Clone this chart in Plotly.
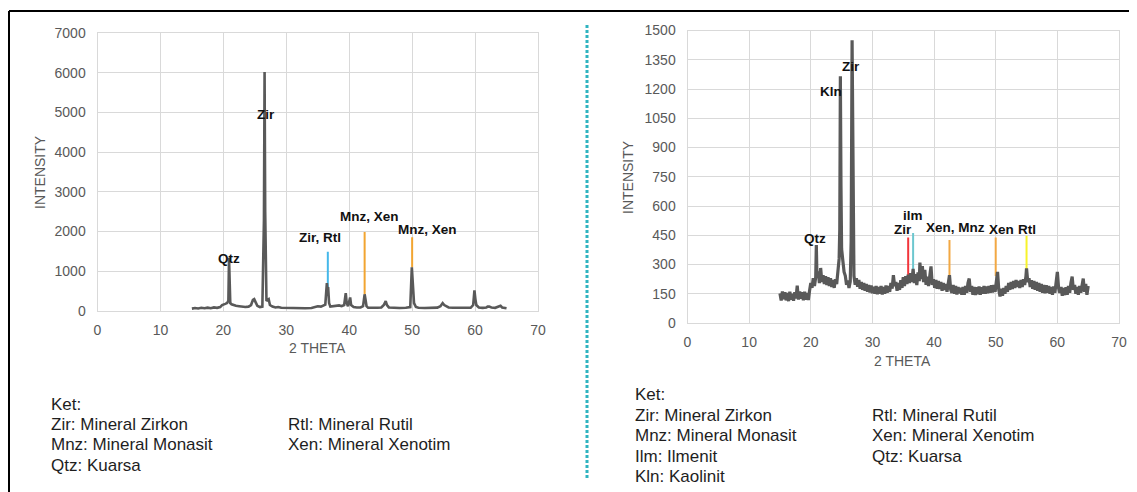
import plotly.graph_objects as go

# ---------------- Left pattern ----------------
theta_left = [15.0, 15.5, 16.0, 16.5, 17.0, 17.5, 18.0, 18.5, 19.0, 19.5, 19.8, 20.0, 20.3, 20.6,
              20.8, 20.9, 21.0, 21.1, 21.3, 21.6, 22.0, 22.5, 23.0, 23.5, 24.0, 24.4, 24.7, 24.9,
              25.1, 25.4, 25.8, 26.2, 26.45, 26.55, 26.65, 26.75, 26.85, 27.0, 27.2, 27.4, 27.8,
              28.3, 28.7, 29.2, 30.0, 31.0, 32.0, 33.0, 34.0, 34.5, 35.0, 35.5, 35.9, 36.2, 36.45,
              36.55, 36.65, 36.8, 37.0, 37.5, 38.0, 38.4, 38.8, 39.2, 39.45, 39.6, 39.8, 40.05,
              40.15, 40.3, 40.4, 40.7, 41.2, 41.8, 42.2, 42.45, 42.6, 42.75, 43.0, 43.8, 44.5,
              45.1, 45.5, 45.8, 46.0, 46.3, 47.0, 48.0, 49.0, 49.7, 49.95, 50.05, 50.15, 50.3,
              50.6, 51.0, 52.0, 53.0, 54.0, 54.5, 54.85, 55.1, 55.4, 55.8, 56.5, 57.5, 58.5, 59.3,
              59.7, 59.9, 60.05, 60.2, 60.6, 61.2, 61.8, 62.0, 62.25, 62.6, 63.2, 63.7, 64.05,
              64.3, 64.7, 65.0]
intensity_left = [60, 75, 65, 80, 70, 85, 70, 90, 80, 100, 150, 170, 180, 200,
                  260, 1340, 780, 200, 170, 150, 130, 120, 110, 100, 110, 150, 280, 300,
                  230, 130, 100, 110, 2300, 6020, 2500, 400, 250, 280, 300, 150, 110,
                  90, 100, 80, 75, 70, 75, 70, 75, 90, 120, 110, 130, 160, 700,
                  520, 600, 200, 110, 120, 130, 140, 120, 150, 450, 200, 120, 330,
                  340, 150, 130, 100, 90, 90, 120, 420, 280, 120, 80, 75, 80,
                  90, 150, 250, 150, 90, 80, 75, 80, 100, 1100, 850, 600, 200,
                  100, 80, 75, 80, 85, 120, 200, 150, 120, 90, 80, 75, 80, 80,
                  150, 520, 300, 150, 90, 80, 90, 110, 110, 90, 80, 100, 130,
                  90, 70, 70]

left_label_text = ["Qtz", "Zir", "Zir, Rtl", "Mnz, Xen", "Mnz, Xen"]
left_label_x = [20.9, 26.8, 35.4, 43.2, 52.4]
left_label_y = [1330, 4960, 1860, 2370, 2040]

left_mark_theta = [36.6, 42.45, 50.0]
left_mark_top = [1490, 1990, 1860]
left_mark_bottom = [520, 420, 1100]
left_mark_color = ["#45b8ea", "#f2a531", "#f2a531"]

# ---------------- Right pattern ----------------
theta_right = [15.0, 15.2, 15.4, 15.6, 15.8, 16.0, 16.2, 16.4, 16.6, 16.8, 17.0, 17.2, 17.4, 17.6,
               17.8, 18.0, 18.2, 18.4, 18.6, 18.8, 19.0, 19.2, 19.4, 19.6, 19.8, 20.0, 20.2, 20.4,
               20.6, 20.8, 20.9, 21.0, 21.2, 21.4, 21.6, 21.8, 22.0, 22.2, 22.4, 22.6, 22.8, 23.0,
               23.2, 23.4, 23.6, 23.8, 24.0, 24.2, 24.4, 24.6, 24.7, 24.8, 24.9, 25.0, 25.2, 25.4,
               25.6, 25.8, 26.0, 26.2, 26.4, 26.55, 26.7, 26.8, 26.9, 27.0, 27.2, 27.4, 27.6, 27.8,
               28.0, 28.2, 28.4, 28.6, 28.8, 29.0, 29.2, 29.4, 29.6, 29.8, 30.0, 30.2, 30.4, 30.6,
               30.8, 31.0, 31.2, 31.4, 31.6, 31.8, 32.0, 32.2, 32.4, 32.6, 32.8, 33.0, 33.2, 33.4,
               33.6, 33.8, 34.0, 34.2, 34.4, 34.6, 34.8, 35.0, 35.2, 35.4, 35.6, 35.8, 36.0, 36.2,
               36.4, 36.6, 36.8, 37.0, 37.2, 37.4, 37.6, 37.7, 37.9, 38.1, 38.3, 38.5, 38.7, 38.9,
               39.1, 39.3, 39.5, 39.7, 39.9, 40.1, 40.3, 40.5, 40.7, 40.9, 41.1, 41.3, 41.5, 41.7,
               41.9, 42.1, 42.3, 42.5, 42.7, 42.9, 43.1, 43.3, 43.5, 43.7, 43.9, 44.1, 44.3, 44.5,
               44.7, 44.9, 45.1, 45.3, 45.5, 45.7, 45.9, 46.1, 46.3, 46.5, 46.7, 46.9, 47.1, 47.3,
               47.5, 47.7, 47.9, 48.1, 48.3, 48.5, 48.7, 48.9, 49.1, 49.3, 49.5, 49.7, 49.9, 50.1,
               50.3, 50.5, 50.7, 50.9, 51.1, 51.3, 51.5, 51.7, 51.9, 52.1, 52.3, 52.5, 52.7, 52.9,
               53.1, 53.3, 53.5, 53.7, 53.9, 54.1, 54.3, 54.5, 54.7, 54.9, 55.0, 55.2, 55.4, 55.6,
               55.8, 56.0, 56.2, 56.4, 56.6, 56.8, 57.0, 57.2, 57.4, 57.6, 57.8, 58.0, 58.2, 58.4,
               58.6, 58.8, 59.0, 59.2, 59.4, 59.6, 59.8, 60.0, 60.2, 60.4, 60.6, 60.8, 61.0, 61.2,
               61.4, 61.6, 61.8, 62.0, 62.2, 62.4, 62.6, 62.8, 63.0, 63.2, 63.4, 63.6, 63.8, 64.0,
               64.2, 64.4, 64.6, 64.8, 65.0]
intensity_right = [152, 115, 162, 122, 158, 116, 154, 112, 160, 120, 150, 114, 158, 126,
                   192, 120, 162, 124, 158, 116, 160, 120, 154, 118, 165, 205, 180, 230,
                   190, 235, 400, 235, 265, 205, 282, 210, 245, 200, 240, 195, 235, 190,
                   230, 185, 220, 180, 225, 200, 265, 330, 480, 1265, 700, 380, 320, 262,
                   242, 196, 218, 180, 212, 420, 1450, 800, 330, 242, 196, 230, 186, 220,
                   176, 210, 170, 205, 166, 200, 160, 195, 156, 192, 153, 186, 150, 190,
                   148, 185, 150, 190, 146, 185, 150, 192, 155, 190, 160, 205, 176, 245,
                   190, 210, 165, 205, 170, 220, 180, 235, 190, 240, 200, 248, 205, 255,
                   210, 278, 205, 250, 195, 260, 215, 310, 225, 292, 210, 272, 196, 238,
                   190, 230, 290, 195, 225, 180, 220, 176, 215, 175, 210, 165, 205, 170,
                   200, 160, 195, 245, 170, 155, 195, 150, 190, 146, 185, 152, 180, 145,
                   185, 145, 190, 155, 205, 228, 160, 190, 145, 185, 143, 183, 147, 187,
                   145, 183, 150, 190, 150, 187, 153, 190, 155, 193, 157, 195, 160, 205,
                   262, 170, 136, 175, 140, 180, 150, 190, 160, 205, 170, 210, 175, 215,
                   180, 220, 185, 215, 180, 220, 185, 225, 195, 238, 280, 210, 230, 185,
                   220, 175, 215, 170, 210, 165, 205, 160, 200, 155, 195, 153, 193, 155,
                   190, 150, 185, 145, 187, 155, 205, 262, 180, 155, 185, 140, 180, 143,
                   183, 145, 190, 155, 205, 238, 170, 195, 150, 185, 145, 190, 155, 200,
                   228, 160, 200, 145, 190]

right_label_text = ["Zir", "Kln", "Qtz", "ilm", "Zir", "Xen, Mnz", "Xen", "Rtl"]
right_label_x = [26.5, 23.3, 20.7, 36.6, 34.9, 43.4, 50.95, 55.1]
right_label_y = [1313, 1185, 431, 551, 481, 489, 478, 481]

right_mark_theta = [35.8, 36.6, 42.5, 50.0, 55.0]
right_mark_top = [438, 461, 426, 438, 448]
right_mark_bottom = [246, 263, 225, 241, 263]
right_mark_color = ["#f2353b", "#6cc7cf", "#f2a843", "#f2a843", "#f7f32a"]

left_notes_col1 = ["Ket:", "Zir: Mineral Zirkon", "Mnz: Mineral Monasit", "Qtz: Kuarsa"]
left_notes_col2 = ["Rtl: Mineral Rutil", "Xen: Mineral Xenotim"]
right_notes_col1 = ["Ket:", "Zir: Mineral Zirkon", "Mnz: Mineral Monasit", "Ilm: Ilmenit", "Kln: Kaolinit"]
right_notes_col2 = ["Rtl: Mineral Rutil", "Xen: Mineral Xenotim", "Qtz: Kuarsa"]

left_yticks = [0, 1000, 2000, 3000, 4000, 5000, 6000, 7000]
right_yticks = [0, 150, 300, 450, 600, 750, 900, 1050, 1200, 1350, 1500]
xticks = [0, 10, 20, 30, 40, 50, 60, 70]

# ---------------- Figure ----------------
# the page body has an 8px margin, so the figure starts 8px in from the window corner
OFF = 8
W, H = 1137 - OFF, 492 - OFF
FONT = "Liberation Sans, Arial, sans-serif"
TICK = "#595959"
TRACE = "#595959"


def px_x(p):
    return (p - OFF) / W


def px_y(p):
    return 1 - (p - OFF) / H


fig = go.Figure()

# marker lines (drawn first so the gray pattern covers their lower ends)
for th, top, bot, col in zip(left_mark_theta, left_mark_top, left_mark_bottom, left_mark_color):
    fig.add_trace(go.Scatter(x=[th, th], y=[bot, top], mode="lines", xaxis="x", yaxis="y",
                             line=dict(color=col, width=2), hoverinfo="skip", showlegend=False))
for th, top, bot, col in zip(right_mark_theta, right_mark_top, right_mark_bottom, right_mark_color):
    fig.add_trace(go.Scatter(x=[th, th], y=[bot, top], mode="lines", xaxis="x2", yaxis="y2",
                             line=dict(color=col, width=2), hoverinfo="skip", showlegend=False))

fig.add_trace(go.Scatter(x=theta_left, y=intensity_left, mode="lines", xaxis="x", yaxis="y",
                         line=dict(color=TRACE, width=2.6), showlegend=False))
fig.add_trace(go.Scatter(x=theta_right, y=intensity_right, mode="lines", xaxis="x2", yaxis="y2",
                         line=dict(color=TRACE, width=3.2), showlegend=False))

axis_common = dict(showgrid=True, gridcolor="#d9d9d9", gridwidth=1, zeroline=False,
                   showline=True, mirror=True, linecolor="#d9d9d9", linewidth=1,
                   ticks="", tickfont=dict(family=FONT, size=14, color=TICK), automargin=False,
                   fixedrange=True)

fig.update_layout(
    width=W, height=H, autosize=False,
    margin=dict(l=0, r=0, t=0, b=0),
    paper_bgcolor="white", plot_bgcolor="white",
    xaxis=dict(domain=[px_x(97.5), px_x(538)], range=[0, 70], tickvals=xticks, anchor="y",
               ticklabelstandoff=6, **axis_common),
    yaxis=dict(domain=[px_y(311), px_y(33)], range=[0, 7000], tickvals=left_yticks, anchor="x",
               ticklabelstandoff=8, **axis_common),
    xaxis2=dict(domain=[px_x(687.5), px_x(1119)], range=[0, 70], tickvals=xticks, anchor="y2",
                ticklabelstandoff=6, **axis_common),
    yaxis2=dict(domain=[px_y(323), px_y(30.5)], range=[0, 1500], tickvals=right_yticks, anchor="x2",
                ticklabelstandoff=8, **axis_common),
)

ann = []
# peak labels
label_font = dict(family=FONT, size=13.5, color="#111111")
for t, x, y in zip(left_label_text, left_label_x, left_label_y):
    ann.append(dict(text="<b>" + t + "</b>", x=x, y=y, xref="x", yref="y", showarrow=False,
                    font=label_font, xanchor="center", yanchor="middle"))
for t, x, y in zip(right_label_text, right_label_x, right_label_y):
    ann.append(dict(text="<b>" + t + "</b>", x=x, y=y, xref="x2", yref="y2", showarrow=False,
                    font=label_font, xanchor="center", yanchor="middle"))

# axis titles
title_font = dict(family=FONT, size=14, color=TICK)
ann.append(dict(text="2 THETA", x=px_x(317), y=px_y(348), xref="paper", yref="paper",
                showarrow=False, font=title_font, xanchor="center", yanchor="middle"))
ann.append(dict(text="2 THETA", x=px_x(902), y=px_y(361), xref="paper", yref="paper",
                showarrow=False, font=title_font, xanchor="center", yanchor="middle"))
ann.append(dict(text="INTENSITY", x=px_x(40), y=px_y(172), xref="paper", yref="paper", textangle=-90,
                showarrow=False, font=title_font, xanchor="center", yanchor="middle"))
ann.append(dict(text="INTENSITY", x=px_x(628), y=px_y(177), xref="paper", yref="paper", textangle=-90,
                showarrow=False, font=title_font, xanchor="center", yanchor="middle"))

# notes
note_font = dict(family=FONT, size=17, color="#1e1e1e")


def add_notes(lines, x_px, y0_px, step):
    for k, t in enumerate(lines):
        ann.append(dict(text=t, x=px_x(x_px), y=px_y(y0_px + k * step), xref="paper", yref="paper",
                        showarrow=False, font=note_font, xanchor="left", yanchor="middle"))


add_notes(left_notes_col1, 49, 404, 20.4)
add_notes(left_notes_col2, 286, 424.4, 20.4)
add_notes(right_notes_col1, 633, 394.5, 20.6)
add_notes(right_notes_col2, 870, 415.1, 20.6)

fig.update_layout(annotations=ann)

# frame and divider
fig.add_shape(type="line", xref="paper", yref="paper", x0=px_x(9), x1=1.02, y0=px_y(11), y1=px_y(11),
              line=dict(color="black", width=2))
fig.add_shape(type="line", xref="paper", yref="paper", x0=px_x(9), x1=px_x(9), y0=px_y(11), y1=-0.02,
              line=dict(color="black", width=2))
fig.add_shape(type="line", xref="paper", yref="paper", x0=px_x(587), x1=px_x(587), y0=px_y(25), y1=px_y(479),
              line=dict(color="#2fb3c0", width=3, dash="3px,2px"))

fig.write_html("out.html")
